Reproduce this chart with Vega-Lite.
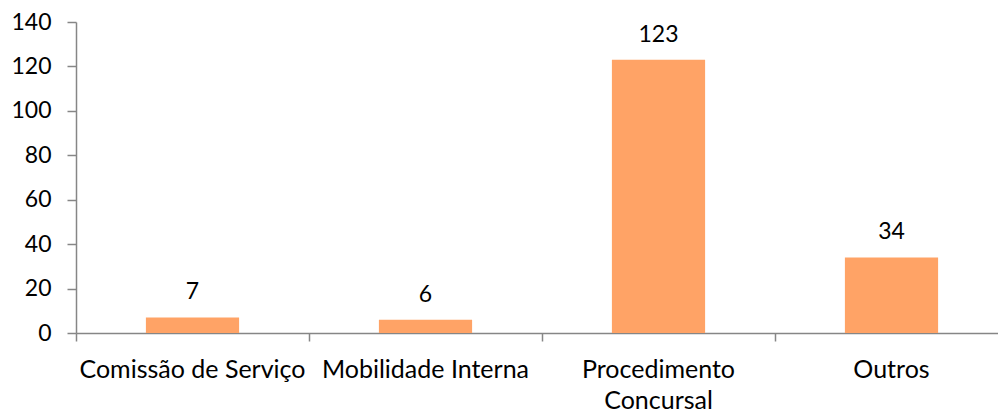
{
  "$schema": "https://vega.github.io/schema/vega-lite/v6.json",
  "autosize": {"type": "none"},
  "padding": {"left": 76, "top": 22, "right": 0, "bottom": 77},
  "width": 922,
  "height": 311,
  "background": "white",
  "config": {
    "view": {"stroke": null},
    "font": "Lato",
    "axis": {"labelFont": "Lato", "labelFontSize": 23, "labelColor": "#000000", "domainColor": "#868686", "tickColor": "#868686", "domainWidth": 1.5, "tickWidth": 1.5, "grid": false, "title": null, "labelLimit": 0}
  },
  "data": {
    "values": [
      {"categoria": "Comissão de Serviço", "valor": 7},
      {"categoria": "Mobilidade Interna", "valor": 6},
      {"categoria": "Procedimento Concursal", "valor": 123},
      {"categoria": "Outros", "valor": 34}
    ]
  },
  "encoding": {
    "x": {
      "field": "categoria",
      "type": "nominal",
      "sort": null,
      "scale": {"range": [0, 932], "paddingInner": 0.6, "paddingOuter": 0.3}
    },
    "y": {
      "field": "valor",
      "type": "quantitative",
      "scale": {"domain": [0, 140], "nice": false},
      "axis": {"values": [0, 20, 40, 60, 80, 100, 120, 140], "tickSize": 9, "labelPadding": 16, "labelFontSize": 23}
    }
  },
  "layer": [
    {
      "mark": {"type": "bar", "color": "#FFA366"},
      "encoding": {
        "x": {
          "field": "categoria", "type": "nominal", "sort": null,
          "axis": {"orient": "bottom", "ticks": false, "tickSize": 0, "labelAngle": 0, "labelBaseline": "top", "labelPadding": 24, "labelLineHeight": 31.5, "labelFontSize": 25, "labelLimit": 0, "labelOverlap": false,
            "labelExpr": "datum.label == 'Procedimento Concursal' ? ['Procedimento', 'Concursal'] : datum.label"}
        }
      }
    },
    {
      "mark": {"type": "text", "baseline": "alphabetic", "dy": -18, "fontSize": 23, "color": "#000000", "font": "Lato"},
      "encoding": {
        "text": {"field": "valor", "type": "quantitative"},
        "x": {
          "field": "categoria", "type": "nominal", "sort": null,
          "axis": {"orient": "bottom", "labels": false, "domain": false, "ticks": true, "tickSize": 8, "bandPosition": -0.75}
        }
      }
    }
  ],
  "resolve": {"axis": {"x": "independent"}}
}
